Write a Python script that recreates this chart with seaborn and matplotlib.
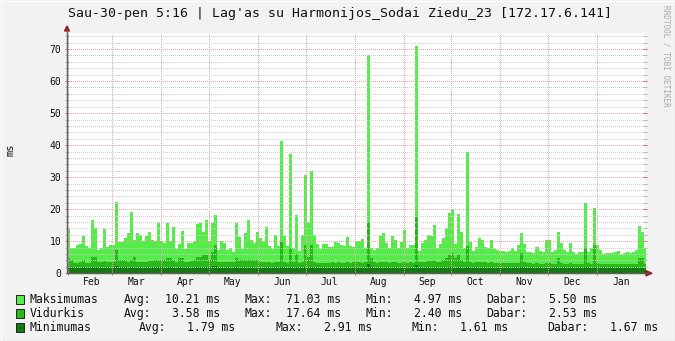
import numpy as np
import pandas as pd
import matplotlib
matplotlib.use("Agg")
import matplotlib.pyplot as plt
import matplotlib.dates as mdates
from matplotlib.ticker import MultipleLocator, NullFormatter
from matplotlib.patches import Rectangle, Polygon
from matplotlib.lines import Line2D
import seaborn as sns

# ---------------- data ----------------
title = "Sau-30-pen 5:16 | Lag'as su Harmonijos_Sodai Ziedu_23 [172.17.6.141]"
series_names = ["Maksimumas", "Vidurkis", "Minimumas"]
series_colors = ["#54EC48", "#24BC14", "#137A13"]
y_label = "ms"
watermark = "RRDTOOL / TOBI OETIKER"

sample_start = "2014-01-31 09:00"
sample_step_hours = 45.5

maksimumas = [
    13.7, 7.8, 7.8, 8.8, 9.0, 11.5, 8.5, 7.8, 16.7, 14.0,
    7.3, 7.8, 13.7, 8.3, 8.8, 8.8, 22.4, 9.9, 9.9, 10.9,
    12.7, 19.0, 10.4, 12.7, 12.0, 10.0, 11.5, 13.0, 10.5, 10.0,
    15.6, 10.0, 9.5, 15.6, 10.0, 14.6, 7.5, 9.0, 13.3, 7.5,
    9.5, 9.5, 10.0, 15.4, 15.8, 13.0, 16.5, 10.0, 15.6, 18.2,
    7.2, 10.0, 9.5, 7.2, 8.0, 6.5, 15.8, 11.2, 7.5, 12.5,
    16.5, 10.5, 9.5, 13.0, 11.0, 10.0, 14.6, 8.5, 7.5, 12.0,
    8.5, 41.4, 11.5, 8.5, 37.3, 8.0, 18.2, 7.0, 12.0, 30.7,
    16.0, 32.0, 12.0, 9.0, 7.5, 9.0, 9.0, 8.3, 8.3, 9.9,
    9.4, 8.9, 8.5, 11.2, 8.5, 8.3, 10.0, 10.2, 10.6, 7.8,
    68.2, 7.8, 7.3, 8.0, 11.5, 12.5, 9.4, 8.0, 11.7, 10.5,
    8.0, 9.9, 13.5, 8.0, 8.9, 8.9, 71.03, 7.0, 9.4, 10.4,
    12.0, 11.5, 15.1, 8.0, 9.0, 11.0, 14.0, 18.7, 20.0, 9.0,
    18.5, 13.0, 8.0, 37.8, 9.9, 7.0, 8.3, 11.0, 10.4, 8.3,
    8.0, 10.4, 7.5, 7.3, 7.1, 7.1, 6.8, 7.0, 8.0, 7.0,
    8.9, 12.5, 9.0, 6.5, 6.5, 6.2, 8.3, 7.0, 6.5, 10.4,
    10.4, 6.8, 7.3, 13.0, 9.4, 7.3, 6.7, 9.6, 6.8, 5.9,
    6.5, 6.8, 22.0, 6.8, 8.0, 20.3, 8.9, 7.3, 6.0, 6.3,
    6.4, 6.3, 6.8, 7.0, 5.7, 6.2, 6.5, 6.2, 6.6, 7.2,
    14.8, 13.0, 7.5,
]

vidurkis = [
    4.7, 4.2, 3.3, 3.3, 3.4, 4.0, 3.3, 3.3, 5.0, 5.0,
    3.6, 3.5, 3.8, 3.6, 3.5, 3.6, 7.3, 4.2, 4.2, 4.0,
    3.6, 4.2, 5.2, 3.6, 3.6, 3.5, 3.6, 3.7, 3.8, 4.2,
    4.2, 4.2, 4.0, 4.7, 4.7, 4.0, 3.6, 4.7, 4.7, 3.6,
    3.6, 3.8, 4.0, 5.2, 5.2, 5.7, 5.7, 4.0, 6.5, 8.9,
    3.4, 3.6, 3.6, 3.6, 3.6, 3.6, 4.7, 4.2, 4.2, 4.2,
    4.2, 4.0, 4.0, 4.2, 3.6, 3.4, 3.5, 3.4, 3.3, 3.5,
    3.4, 9.9, 3.5, 3.3, 8.0, 3.5, 6.0, 3.3, 3.6, 8.9,
    5.2, 8.9, 3.6, 3.3, 3.3, 3.2, 3.3, 3.3, 3.4, 3.3,
    3.4, 3.3, 3.2, 3.5, 3.3, 3.4, 3.5, 3.6, 3.3, 3.4,
    16.0, 4.7, 3.4, 3.3, 3.4, 3.6, 3.4, 3.3, 3.5, 3.4,
    3.3, 3.3, 3.6, 3.3, 3.4, 3.3, 17.64, 3.4, 3.5, 3.6,
    3.8, 3.8, 4.2, 3.6, 3.6, 4.2, 4.7, 5.7, 6.2, 4.7,
    5.7, 4.2, 3.6, 8.5, 3.5, 3.3, 3.5, 3.6, 3.5, 3.4,
    3.3, 3.4, 3.3, 3.2, 3.2, 3.3, 3.2, 3.3, 3.3, 3.2,
    3.3, 6.2, 3.4, 3.1, 3.1, 3.0, 3.2, 3.0, 3.0, 3.2,
    3.1, 3.0, 3.0, 4.7, 3.2, 3.0, 3.0, 3.1, 3.0, 2.9,
    2.9, 3.0, 7.8, 3.1, 3.0, 8.9, 3.2, 3.0, 2.9, 2.9,
    2.9, 2.9, 3.0, 3.0, 2.8, 2.9, 2.9, 2.9, 3.0, 3.0,
    4.7, 4.7, 3.0,
]

minimumas = [
    1.9, 1.9, 1.8, 1.8, 1.8, 1.9, 1.8, 1.8, 2.0, 2.0,
    1.8, 1.8, 1.8, 1.8, 1.8, 1.9, 2.4, 1.9, 1.9, 1.9,
    1.8, 1.9, 2.0, 1.8, 1.8, 1.8, 1.8, 1.8, 1.9, 1.9,
    1.9, 1.9, 1.8, 1.9, 1.9, 1.8, 1.8, 1.9, 1.9, 1.8,
    1.8, 1.8, 1.8, 2.0, 2.0, 2.0, 2.0, 1.8, 2.2, 2.4,
    1.7, 1.8, 1.8, 1.8, 1.8, 1.8, 1.9, 1.8, 1.8, 1.8,
    1.8, 1.8, 1.8, 1.8, 1.8, 1.7, 1.7, 1.7, 1.7, 1.7,
    1.7, 2.1, 1.7, 1.7, 2.0, 1.7, 1.9, 1.7, 1.7, 2.0,
    1.8, 2.0, 1.7, 1.7, 1.7, 1.7, 1.7, 1.7, 1.7, 1.7,
    1.7, 1.7, 1.7, 1.7, 1.7, 1.7, 1.7, 1.7, 1.7, 1.7,
    2.91, 1.9, 1.7, 1.7, 1.7, 1.7, 1.7, 1.7, 1.7, 1.7,
    1.7, 1.7, 1.7, 1.7, 1.7, 1.7, 2.6, 1.7, 1.7, 1.7,
    1.8, 1.8, 1.8, 1.7, 1.7, 1.8, 1.8, 1.9, 2.0, 1.8,
    1.9, 1.8, 1.7, 2.1, 1.7, 1.7, 1.7, 1.7, 1.7, 1.7,
    1.7, 1.7, 1.7, 1.7, 1.7, 1.7, 1.7, 1.7, 1.7, 1.7,
    1.7, 1.9, 1.7, 1.7, 1.7, 1.6, 1.7, 1.6, 1.6, 1.7,
    1.6, 1.6, 1.6, 1.8, 1.6, 1.6, 1.6, 1.6, 1.6, 1.6,
    1.6, 1.6, 2.0, 1.6, 1.6, 2.0, 1.6, 1.6, 1.6, 1.6,
    1.6, 1.6, 1.6, 1.6, 1.6, 1.6, 1.6, 1.6, 1.6, 1.6,
    1.8, 1.8, 1.67,
]

stat_labels = ["Avg:", "Max:", "Min:", "Dabar:"]
maks_stats = ["10.21 ms", "71.03 ms", "4.97 ms", "5.50 ms"]
vid_stats = ["3.58 ms", "17.64 ms", "2.40 ms", "2.53 ms"]
min_stats = ["1.79 ms", "2.91 ms", "1.61 ms", "1.67 ms"]

x_start, x_end = "2014-01-31 09:00", "2015-01-31 06:00"
y_max = 75

# ---------------- figure ----------------
W, H = 675, 341
sns.set_theme(style="white")
plt.rcParams["font.family"] = ["DejaVu Sans Mono", "DejaVu Sans"]
plt.rcParams["axes.unicode_minus"] = False

BG = "#F2F2F2"
fig = plt.figure(figsize=(W / 100, H / 100), dpi=100, facecolor=BG)

def fx(x):
    return x / W

def fy(y):
    return 1 - y / H

L, R, T, B = 67, 645, 33, 273.3
ax = fig.add_axes([fx(L), fy(B), fx(R) - fx(L), (B - T) / H])
ax.set_facecolor("white")

n = len(maksimumas)
t0 = mdates.date2num(pd.Timestamp(sample_start))
step_days = sample_step_hours / 24.0
t_start = t0 + step_days * np.arange(n)
centers = t_start + step_days / 2

df = pd.DataFrame({"t": centers, "maks": maksimumas,
                   "vid": vidurkis, "min": minimumas})

for col, c in zip(["maks", "vid", "min"], series_colors):
    sns.histplot(data=df, x="t", weights=col, binwidth=step_days,
                 binrange=(t0, t0 + step_days * n), element="step",
                 fill=True, color=c, alpha=1, linewidth=0, ax=ax, zorder=1)

ax.set_xlim(mdates.date2num(pd.Timestamp(x_start)),
            mdates.date2num(pd.Timestamp(x_end)))
ax.set_ylim(0, y_max)
ax.set_xlabel("")
ax.set_ylabel("")

# grid & ticks
MAJ_C = "#E8A4A4"
MIN_C = "#CFCFCF"
dots = (0, (1, 2))
ax.yaxis.set_major_locator(MultipleLocator(10))
ax.yaxis.set_minor_locator(MultipleLocator(2))
ax.xaxis.set_major_locator(mdates.MonthLocator())
ax.xaxis.set_major_formatter(NullFormatter())
ax.xaxis.set_minor_locator(mdates.MonthLocator(bymonthday=16))
ax.xaxis.set_minor_formatter(mdates.DateFormatter("%b"))
ax.set_axisbelow(False)
ax.grid(False)
ax.yaxis.grid(True, which="minor", color=MIN_C, linestyle=dots, linewidth=0.72,
              antialiased=False)
ax.yaxis.grid(True, which="major", color=MAJ_C, linestyle=dots, linewidth=0.72,
              antialiased=False)
ax.xaxis.grid(True, which="major", color=MAJ_C, linestyle=dots, linewidth=0.72,
              antialiased=False)
ax.xaxis.grid(False, which="minor")

ax.tick_params(axis="y", which="major", left=True, right=True, direction="inout",
               length=3.5, width=0.72, color="#D87070", pad=2.2,
               labelsize=7, labelcolor="#111111")
ax.tick_params(axis="y", which="minor", left=True, right=True, direction="inout",
               length=3.5, width=0.72, color="#B8B8B8")
ax.tick_params(axis="x", which="major", bottom=True, direction="inout",
               length=3.5, width=0.72, color="#D87070")
ax.tick_params(axis="x", which="minor", bottom=True, length=0, pad=3.0,
               labelsize=7, labelcolor="#111111")

for s in ["top", "right"]:
    ax.spines[s].set_visible(False)
for s in ["left", "bottom"]:
    ax.spines[s].set_color("#606060")
    ax.spines[s].set_linewidth(0.9)
    ax.spines[s].set_zorder(5)

# axis extensions & arrows
AR = "#9A1A1A"
fig.add_artist(Line2D([fx(L), fx(L)], [fy(B), fy(29)], color="#606060", lw=0.9))
fig.add_artist(Line2D([fx(L), fx(649)], [fy(B), fy(B)], color="#606060", lw=0.9))
fig.add_artist(Polygon([[fx(64.5), fy(31)], [fx(69.5), fy(31)], [fx(67), fy(26)]],
                       closed=True, color=AR, transform=fig.transFigure))
fig.add_artist(Polygon([[fx(646), fy(B - 2.6)], [fx(646), fy(B + 2.6)], [fx(652), fy(B)]],
                       closed=True, color=AR, transform=fig.transFigure))

# title, y label, watermark
fig.text(fx(340), fy(13), title, ha="center", va="center", fontsize=9.5,
         color="#111111")
fig.text(fx(10), fy(150), y_label, ha="center", va="center", rotation=90,
         fontsize=7.5, color="#111111")
fig.text(fx(666), fy(5), watermark, ha="center", va="top", rotation=270,
         fontsize=5.6, color="#A8A8A8")

# legend
rows_y = [299.3, 313.3, 327.3]
all_stats = [maks_stats, vid_stats, min_stats]
label_x = [[124, 244.5, 365, 486.4], [124, 244.5, 365, 486.4],
           [139, 275.5, 411, 547.6]]
value_x = [[220.4, 341.4, 461.9, 597.5], [220.4, 341.4, 461.9, 597.5],
           [235.5, 372, 508, 658.6]]
for i, (name, c, st) in enumerate(zip(series_names, series_colors, all_stats)):
    yy = rows_y[i]
    fig.add_artist(Rectangle((fx(15.5), fy(yy + 4.5)), 8.5 / W, 9 / H,
                             facecolor=c, edgecolor="#222222", lw=0.7,
                             transform=fig.transFigure))
    fig.text(fx(30), fy(yy), name, ha="left", va="center", fontsize=8.3,
             color="#111111")
    for j in range(4):
        fig.text(fx(label_x[i][j]), fy(yy), stat_labels[j], ha="left",
                 va="center", fontsize=8.3, color="#111111")
        fig.text(fx(value_x[i][j]), fy(yy), st[j], ha="right",
                 va="center", fontsize=8.3, color="#111111")

# image frame
fig.add_artist(Line2D([0, 1], [fy(0.5), fy(0.5)], color="#FFFFFF", lw=0.8))
fig.add_artist(Line2D([fx(0.5), fx(0.5)], [0, 1], color="#FFFFFF", lw=0.8))
fig.add_artist(Line2D([0, 1], [fy(H - 0.5), fy(H - 0.5)], color="#9E9E9E", lw=0.8))
fig.add_artist(Line2D([fx(W - 0.5), fx(W - 0.5)], [0, 1], color="#9E9E9E", lw=0.8))

fig.savefig("out.png", dpi=100, facecolor=BG)
